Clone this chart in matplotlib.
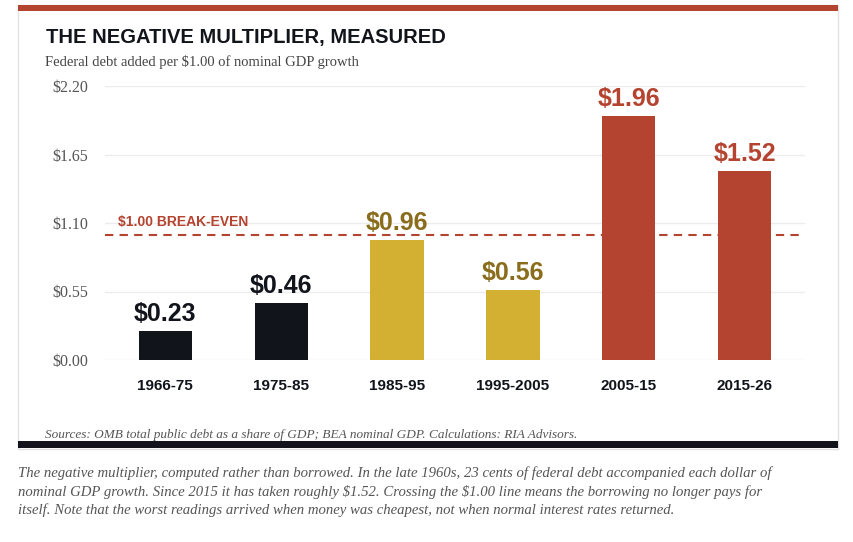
import matplotlib.pyplot as plt
from matplotlib.patches import Rectangle

plt.rcParams['text.parse_math'] = False

periods = ['1966-75', '1975-85', '1985-95', '1995-2005', '2005-15', '2015-26']
values = [0.23, 0.46, 0.96, 0.56, 1.96, 1.52]
bar_colors = ['#11141b', '#11141b', '#d4b032', '#d4b032', '#b4432f', '#b4432f']
label_colors = ['#11141b', '#11141b', '#8a6d1c', '#8a6d1c', '#b4432f', '#b4432f']
yticks = [0.0, 0.55, 1.10, 1.65, 2.20]

W, H = 854, 542
fig = plt.figure(figsize=(W / 100, H / 100), dpi=100)
fig.patch.set_facecolor('white')

def fx(px):
    return px / W

def fy(py):
    return 1 - py / H

# card border and bars
fig.patches.append(Rectangle((fx(18), fy(449)), fx(820), fy(5) - fy(449), transform=fig.transFigure,
                             facecolor='none', edgecolor='#e2e2e2', lw=1, zorder=-1))
fig.patches.append(Rectangle((fx(18), fy(11)), fx(820), fy(5) - fy(11), transform=fig.transFigure,
                             facecolor='#b4432f', edgecolor='none', zorder=-1))
fig.patches.append(Rectangle((fx(18), fy(448)), fx(820), fy(441) - fy(448), transform=fig.transFigure,
                             facecolor='#11141b', edgecolor='none', zorder=-1))

fig.text(fx(46), fy(38), 'THE NEGATIVE MULTIPLIER, MEASURED', fontsize=14.5, fontweight='bold',
         family='Liberation Sans', color='#11141b', va='center')
fig.text(fx(45), fy(62), 'Federal debt added per $1.00 of nominal GDP growth', fontsize=10.5,
         family='Liberation Serif', color='#444', va='center')
fig.text(fx(45), fy(435), 'Sources: OMB total public debt as a share of GDP; BEA nominal GDP. Calculations: RIA Advisors.',
         fontsize=9.5, family='Liberation Serif', style='italic', color='#555', va='center')
fig.text(fx(18), fy(466), 'The negative multiplier, computed rather than borrowed. In the late 1960s, 23 cents of federal debt accompanied each dollar of\n'
         'nominal GDP growth. Since 2015 it has taken roughly $1.52. Crossing the $1.00 line means the borrowing no longer pays for\n'
         'itself. Note that the worst readings arrived when money was cheapest, not when normal interest rates returned.',
         fontsize=10.6, family='Liberation Serif', style='italic', color='#555', va='top', linespacing=1.45)

ax = fig.add_axes([fx(105), fy(360), fx(700), fy(86) - fy(360)])
ax.set_facecolor('none')
x = range(len(periods))
ax.bar(x, values, width=0.46, color=bar_colors, zorder=2)
for i, v in enumerate(values):
    ax.text(i, v + 0.04, f'${v:.2f}', ha='center', va='bottom', fontsize=18, fontweight='bold',
            family='Liberation Sans', color=label_colors[i], zorder=3)
ax.axhline(1.0, color='#b4432f', ls=(0, (4, 3)), lw=1.5, zorder=1)
ax.text(-0.41, 1.11, '$1.00 BREAK-EVEN', fontsize=10, fontweight='bold', family='Liberation Sans',
        color='#b4432f', va='center', ha='left')
ax.set_xlim(-0.52, 5.52)
ax.set_ylim(0, 2.2)
ax.set_yticks(yticks)
ax.set_yticklabels([f'${t:.2f}' for t in yticks], family='Liberation Serif', fontsize=11.5, color='#555')
ax.set_xticks(list(x))
ax.set_xticklabels(periods, fontsize=11, fontweight='bold', family='Liberation Sans', color='#11141b')
ax.grid(axis='y', color='#ececec', lw=1, zorder=0)
for s in ax.spines.values():
    s.set_visible(False)
ax.tick_params(length=0, axis='y', pad=12)
ax.tick_params(length=0, axis='x', pad=14)

fig.savefig('out.png', dpi=100)
